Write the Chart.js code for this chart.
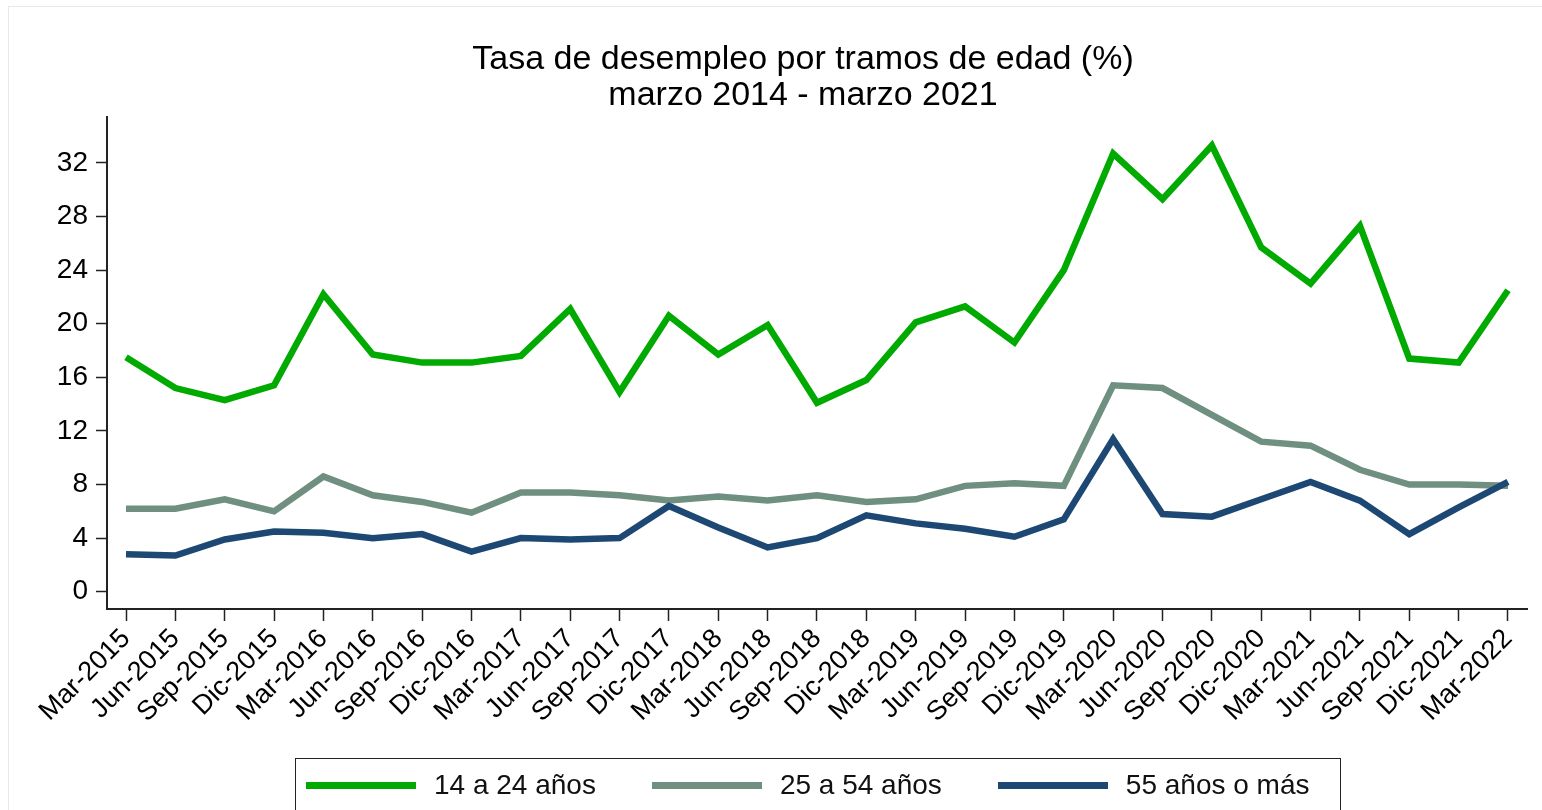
<!DOCTYPE html>
<html lang="es">
<head>
<meta charset="utf-8">
<title>Tasa de desempleo por tramos de edad</title>
<script src="https://cdn.jsdelivr.net/npm/chart.js@4"></script>
<style>
  body { margin: 0; background: #fff; overflow: hidden; }
  #wrap { position: relative; width: 1542px; height: 810px; }
  #marco {
    position: absolute; left: 8px; top: 6px; width: 1600px; height: 900px;
    border: 1px solid #e3eaea; box-sizing: border-box;
  }
  #leyenda {
    position: absolute; left: 295px; top: 758px; width: 1046px; height: 80px;
    border: 1.5px solid #222; box-sizing: border-box;
    display: flex; align-items: center;
    padding-left: 10px; padding-bottom: 26px;
    font-family: "Liberation Sans", Arial, sans-serif; font-size: 28px; color: #111;
    white-space: nowrap;
  }
  .item { display: flex; align-items: center; margin-right: 56px; flex-shrink: 0; }
  .linea { width: 110px; height: 7px; margin-right: 18px; flex-shrink: 0; }
</style>
</head>
<body>
<div id="wrap">
  <div id="marco"></div>
  <canvas id="chart"></canvas>
  <div id="leyenda"></div>
</div>
<script>
// Datos
const trimestres = [
  "Mar-2015", "Jun-2015", "Sep-2015", "Dic-2015",
  "Mar-2016", "Jun-2016", "Sep-2016", "Dic-2016",
  "Mar-2017", "Jun-2017", "Sep-2017", "Dic-2017",
  "Mar-2018", "Jun-2018", "Sep-2018", "Dic-2018",
  "Mar-2019", "Jun-2019", "Sep-2019", "Dic-2019",
  "Mar-2020", "Jun-2020", "Sep-2020", "Dic-2020",
  "Mar-2021", "Jun-2021", "Sep-2021", "Dic-2021",
  "Mar-2022"
];

const jovenes = [17.5, 15.2, 14.3, 15.4, 22.2, 17.7, 17.1, 17.1, 17.6, 21.1, 14.9, 20.6, 17.7, 19.9, 14.1, 15.8, 20.1, 21.3, 18.6, 24.0, 32.7, 29.3, 33.3, 25.7, 23.0, 27.3, 17.4, 17.1, 22.5];
const adultos = [6.2, 6.2, 6.9, 6.0, 8.6, 7.2, 6.7, 5.9, 7.4, 7.4, 7.2, 6.8, 7.1, 6.8, 7.2, 6.7, 6.9, 7.9, 8.1, 7.9, 15.4, 15.2, 13.2, 11.2, 10.9, 9.1, 8.0, 8.0, 7.9];
const mayores = [2.8, 2.7, 3.9, 4.5, 4.4, 4.0, 4.3, 3.0, 4.0, 3.9, 4.0, 6.4, 4.8, 3.3, 4.0, 5.7, 5.1, 4.7, 4.1, 5.4, 11.4, 5.8, 5.6, 6.9, 8.2, 6.8, 4.3, 6.3, 8.2];

const yTicks = [0, 4, 8, 12, 16, 20, 24, 28, 32];

const series = [
  { label: "14 a 24 años", valores: jovenes, color: "#00aa00", orden: 2 },
  { label: "25 a 54 años", valores: adultos, color: "#6f8f80", orden: 1 },
  { label: "55 años o más", valores: mayores, color: "#1d4873", orden: 0 },
];

const fuente = "'Liberation Sans', Arial, sans-serif";

// Leyenda en html
const leyenda = document.getElementById("leyenda");
series.forEach(function (s) {
  const item = document.createElement("div");
  item.className = "item";
  const linea = document.createElement("div");
  linea.className = "linea";
  linea.style.background = s.color;
  const txt = document.createElement("span");
  txt.textContent = s.label;
  item.appendChild(linea);
  item.appendChild(txt);
  leyenda.appendChild(item);
});

// Titulo un poco a la izquierda, como en el original
const moverTitulo = {
  id: "moverTitulo",
  afterLayout: function (chart) {
    if (chart.titleBlock) chart.titleBlock.left -= 28;
  },
};

// Grafico
const datasets = series.map(function (s) {
  return {
    label: s.label,
    data: s.valores.map(function (v, i) { return { x: i, y: v }; }),
    borderColor: s.color,
    backgroundColor: s.color,
    borderWidth: 6.5,
    pointRadius: 0,
    tension: 0,
    order: s.orden,
  };
});

const canvas = document.getElementById("chart");
canvas.width = 1542;
canvas.height = 810;

new Chart(canvas, {
  type: "line",
  data: { datasets: datasets },
  plugins: [moverTitulo],
  options: {
    responsive: false,
    animation: false,
    layout: { padding: { left: 0, right: 15, top: 0, bottom: 0 } },
    plugins: {
      legend: { display: false },
      tooltip: { enabled: false },
      title: {
        display: true,
        fullSize: false,
        text: ["Tasa de desempleo por tramos de edad (%)", "marzo 2014 - marzo 2021"],
        color: "#000",
        font: { family: fuente, size: 34, weight: "normal", lineHeight: 1.05 },
        padding: { top: 42, bottom: 4 },
      },
    },
    scales: {
      x: {
        type: "linear",
        min: -0.385,
        max: 28.385,
        afterBuildTicks: function (scale) {
          scale.ticks = trimestres.map(function (t, i) { return { value: i }; });
        },
        afterFit: function (scale) { scale.height = 201; },
        ticks: {
          autoSkip: false,
          maxRotation: 45,
          minRotation: 45,
          padding: 2,
          color: "#000",
          font: { family: fuente, size: 27 },
          callback: function (v) { return trimestres[v]; },
        },
        grid: {
          drawOnChartArea: false,
          drawTicks: true,
          tickLength: 12,
          tickColor: "#222",
          tickWidth: 1.5,
        },
        border: { color: "#222", width: 2 },
      },
      y: {
        min: -1.29,
        max: 35.4,
        afterBuildTicks: function (scale) {
          scale.ticks = yTicks.map(function (v) { return { value: v }; });
        },
        afterFit: function (scale) { scale.width = 107; },
        ticks: {
          padding: 8,
          color: "#000",
          font: { family: fuente, size: 28 },
        },
        grid: {
          drawOnChartArea: false,
          drawTicks: true,
          tickLength: 11,
          tickColor: "#222",
          tickWidth: 1.5,
        },
        border: { color: "#222", width: 2 },
      },
    },
  },
});
</script>
</body>
</html>
